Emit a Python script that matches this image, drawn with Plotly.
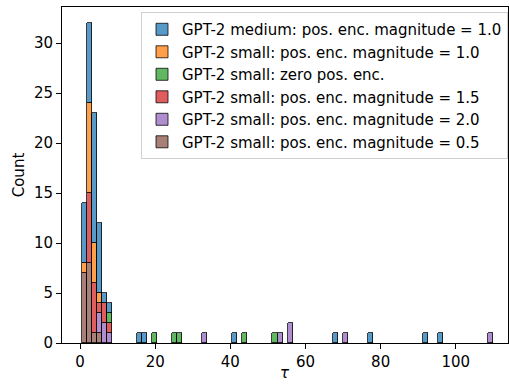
import numpy as np
import plotly.graph_objects as go

# Estimated tau samples (bin-center values) per series
labels = [
    "GPT-2 medium: pos. enc. magnitude = 1.0",
    "GPT-2 small: pos. enc. magnitude = 1.0",
    "GPT-2 small: zero pos. enc.",
    "GPT-2 small: pos. enc. magnitude = 1.5",
    "GPT-2 small: pos. enc. magnitude = 2.0",
    "GPT-2 small: pos. enc. magnitude = 0.5",
]

tau_medium_10 = ([1.1] * 6 + [2.5] * 8 + [3.8] * 13 + [5.1] * 7 + [6.5] + [7.8]
                 + [15.8, 17.2, 41.2, 67.9, 77.3, 92.0, 96.0])
tau_small_10 = [1.1] + [2.5] * 9 + [3.8] * 4 + [5.1]
tau_small_zero = [7.8, 19.8, 25.2, 26.5, 43.9, 51.9]
tau_small_15 = [2.5] * 7 + [3.8] * 5 + [5.1] + [6.5] * 2 + [7.8]
tau_small_20 = [5.1] * 2 + [6.5] * 2 + [7.8] + [33.2, 53.2, 55.9, 55.9, 70.6, 109.3]
tau_small_05 = [1.1] * 7 + [2.5] * 8 + [3.8] + [5.1]

series = [tau_medium_10, tau_small_10, tau_small_zero, tau_small_15, tau_small_20, tau_small_05]

colors = ["rgba(31,119,180,0.75)", "rgba(255,127,14,0.75)", "rgba(44,160,44,0.75)",
          "rgba(214,39,40,0.75)", "rgba(148,103,189,0.75)", "rgba(140,86,75,0.75)"]

bin_start, bin_end, n_bins = 0.45, 110.0, 82
bin_size = (bin_end - bin_start) / n_bins

fig = go.Figure()
# add from bottom of stack (last legend entry) to top
for i in reversed(range(len(series))):
    fig.add_trace(go.Histogram(
        x=series[i], name=labels[i],
        xbins=dict(start=bin_start, end=bin_end + 1e-6, size=bin_size),
        marker=dict(color=colors[i], line=dict(color="rgba(0,0,0,0.85)", width=0.9)),
        legendrank=i + 1,
    ))

font = "DejaVu Sans"
fig.update_layout(
    width=509, height=385,
    margin=dict(l=62, r=1, t=7, b=42),
    barmode="stack", bargap=0,
    plot_bgcolor="white", paper_bgcolor="white",
    font=dict(family=font, size=15, color="black"),
    legend=dict(x=1.0, xanchor="right", y=0.985, yanchor="top",
                bgcolor="rgba(255,255,255,0.8)", bordercolor="#d0d0d0", borderwidth=1,
                font=dict(size=15), traceorder="normal"),
    xaxis=dict(range=[-4.8, 113.9], tickvals=[0, 20, 40, 60, 80, 100],
               showline=True, linecolor="black", linewidth=1, mirror=True,
               ticks="outside", ticklen=5, tickcolor="black", showgrid=False, zeroline=False,
               tickfont=dict(size=15)),
    yaxis=dict(range=[0, 33.6], tickvals=[0, 5, 10, 15, 20, 25, 30],
               showline=True, linecolor="black", linewidth=1, mirror=True,
               ticks="outside", ticklen=5, tickcolor="black", showgrid=False, zeroline=False,
               tickfont=dict(size=15),
               title=dict(text="Count", font=dict(size=15), standoff=5)),
    annotations=[dict(text="<i>τ</i>", xref="paper", yref="paper", x=0.5, y=-0.088,
                      xanchor="center", yanchor="middle", showarrow=False,
                      font=dict(size=15, family=font))],
)

fig.write_html("out.html")
